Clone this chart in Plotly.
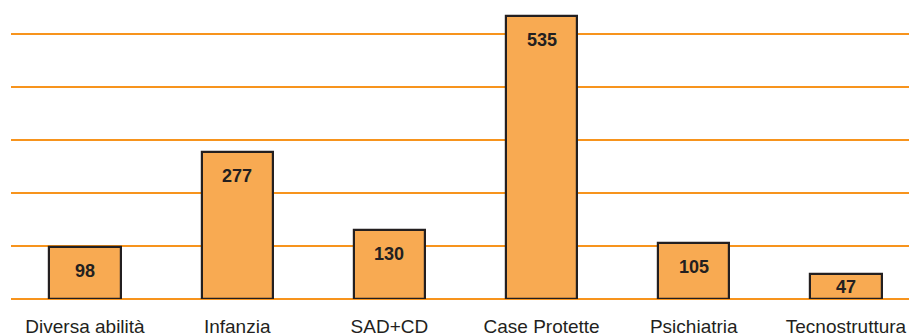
import plotly.graph_objects as go

categories = ["Diversa abilità", "Infanzia", "SAD+CD", "Case Protette", "Psichiatria", "Tecnostruttura"]
values = [98, 277, 130, 535, 105, 47]
y_ticks = [0, 100, 200, 300, 400, 500]

Y_MAX = 550
PLOT_H = 336 - 8 - 37
px_per_unit = PLOT_H / Y_MAX

fig = go.Figure()
fig.add_trace(go.Bar(
    x=categories, y=values, width=0.467,
    marker=dict(color="#F8AA52", line=dict(color="#231F20", width=2.2)),
    hoverinfo="skip",
))
for c, v in zip(categories, values):
    if v * px_per_unit < 50:
        fig.add_annotation(x=c, y=v / 2, text="<b>%d</b>" % v, showarrow=False,
                           yanchor="middle",
                           font=dict(family="Liberation Sans, Arial", size=18, color="#231F20"))
    else:
        fig.add_annotation(x=c, y=v, text="<b>%d</b>" % v, showarrow=False,
                           yanchor="top", yshift=-12,
                           font=dict(family="Liberation Sans, Arial", size=18, color="#231F20"))

fig.update_layout(
    width=909, height=336,
    margin=dict(l=11, r=0, t=8, b=37),
    paper_bgcolor="white", plot_bgcolor="white",
    showlegend=False,
    xaxis=dict(range=[-0.486, 5.414], showgrid=False, zeroline=False, showline=False,
               ticks="outside", ticklen=10, tickcolor="rgba(0,0,0,0)",
               tickfont=dict(family="Liberation Sans, Arial", size=19, color="#231F20")),
    yaxis=dict(range=[0, Y_MAX], tickvals=y_ticks, showticklabels=False,
               showgrid=True, gridcolor="#F7941D", gridwidth=2.2,
               zeroline=True, zerolinecolor="#F7941D", zerolinewidth=2.2,
               showline=False),
    bargap=0,
)
fig.write_html("out.html")
